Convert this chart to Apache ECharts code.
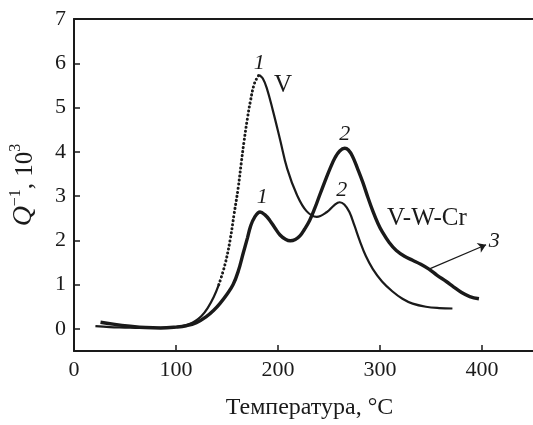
<!DOCTYPE html>
<html>
<head>
<meta charset="utf-8">
<script src="https://cdn.jsdelivr.net/npm/echarts@6/dist/echarts.min.js"></script>
<style>
  html, body { margin: 0; padding: 0; background: #fff; }
  #chart { width: 533px; height: 425px; }
</style>
</head>
<body>
<div id="chart"></div>
<script>
// Internal friction Q^-1 (x10^3) versus temperature for V and V-W-Cr

// V: low-temperature baseline (solid), rising flank (dotted), then falling part (solid)
const vBase = [
  [21, 0.06], [35, 0.04], [50, 0.03], [65, 0.02], [80, 0.02], [95, 0.03],
  [105, 0.06], [113, 0.11], [119, 0.18], [125, 0.29], [131, 0.47],
  [137, 0.72], [142, 1.0]
];
const vRise = [
  [142, 1.0], [148, 1.45], [153, 2.0], [157, 2.6], [161, 3.19], [164, 3.75],
  [166.5, 4.2], [170, 4.75], [173, 5.15], [177, 5.55], [181.5, 5.74]
];
const vFall = [
  [181.5, 5.74], [185, 5.66], [189, 5.44], [195, 4.93], [202, 4.28],
  [209, 3.62], [218.5, 3.03], [228, 2.66], [238, 2.53], [248, 2.64],
  [255, 2.79], [260.5, 2.86], [265, 2.81], [270, 2.64], [275, 2.33],
  [280, 2.0], [286, 1.65], [293, 1.35], [302, 1.07], [312, 0.85],
  [322, 0.68], [332, 0.57], [345, 0.5], [358, 0.47], [371, 0.46]
];

// V-W-Cr
const vwcr = [
  [26, 0.15], [40, 0.1], [55, 0.06], [70, 0.03], [85, 0.02], [100, 0.04],
  [110, 0.07], [120, 0.14], [130, 0.28], [137, 0.42], [143, 0.57],
  [150, 0.78], [156, 1.0], [161, 1.3], [166, 1.72], [170, 2.05],
  [173, 2.31], [177, 2.52], [182.4, 2.64], [187, 2.58], [192, 2.45],
  [197, 2.28], [202, 2.12], [207, 2.03], [212, 1.99], [217, 2.02],
  [221.5, 2.1], [226, 2.25], [231, 2.45], [236, 2.72], [241, 3.03],
  [246, 3.33], [251, 3.62], [256, 3.87], [260.5, 4.02], [265.4, 4.08],
  [269, 4.04], [273, 3.9], [278, 3.62], [283, 3.32], [288, 2.98],
  [293, 2.66], [298, 2.38], [302, 2.2], [309, 1.95], [316, 1.77],
  [324, 1.64], [332, 1.55], [340, 1.46], [348, 1.35], [356, 1.21],
  [365, 1.07], [372, 0.95], [380, 0.82], [388, 0.73], [397, 0.68]
];

// Curve labels: [x, y, text, italic, font size]
const notes = [
  [181.5, 6.0, '1', true, 22],
  [205, 5.5, 'V', false, 25],
  [184.5, 2.97, '1', true, 22],
  [265.5, 4.39, '2', true, 22],
  [262.5, 3.14, '2', true, 22],
  [346, 2.49, 'V-W-Cr', false, 25],
  [412, 1.99, '3', true, 22]
];

// Pointer from the V-W-Cr shoulder to its label
const pointer = [[348, 1.35], [404, 1.9]];

const xTicks = [0, 100, 200, 300, 400];
const yTicks = [0, 1, 2, 3, 4, 5, 6, 7];

const FONT = '"Liberation Serif", "DejaVu Serif", serif';
const INK = '#1a1a1a';

const chart = echarts.init(document.getElementById('chart'), null, { renderer: 'canvas' });

chart.setOption({
  animation: false,
  backgroundColor: '#fff',
  grid: { left: 73, right: 0, top: 19, bottom: 63, containLabel: false },
  xAxis: [
    {
      type: 'value', min: 0, max: 450, position: 'bottom',
      name: 'Температура, °C', nameLocation: 'middle', nameGap: 45,
      nameTextStyle: { fontFamily: FONT, fontSize: 24, color: INK, padding: [0, 0, 0, 12] },
      axisLine: { show: true, onZero: false, lineStyle: { color: INK, width: 2 } },
      axisTick: { show: true, inside: true, length: 6, customValues: xTicks, lineStyle: { color: INK, width: 1.5 } },
      axisLabel: { customValues: xTicks, margin: 8, fontFamily: FONT, fontSize: 22, color: INK },
      splitLine: { show: false }
    },
    {
      type: 'value', min: 0, max: 450, position: 'top',
      axisLine: { show: true, onZero: false, lineStyle: { color: INK, width: 2 } },
      axisTick: { show: false }, axisLabel: { show: false }, splitLine: { show: false }
    }
  ],
  yAxis: {
    type: 'value', min: -0.5, max: 7,
    name: '{q|Q}{sup|−1}{t|, 10}{sup|3}',
    nameLocation: 'middle', nameRotate: 90, nameGap: 36,
    nameTextStyle: {
      rich: {
        q: { fontFamily: FONT, fontStyle: 'italic', fontSize: 28, color: INK, lineHeight: 30, verticalAlign: 'bottom' },
        t: { fontFamily: FONT, fontSize: 25, color: INK, lineHeight: 30, verticalAlign: 'bottom' },
        sup: { fontFamily: FONT, fontSize: 16, color: INK, lineHeight: 30, verticalAlign: 'top' }
      }
    },
    axisLine: { show: true, onZero: false, lineStyle: { color: INK, width: 2 } },
    axisTick: { show: true, inside: true, length: 6, customValues: yTicks, lineStyle: { color: INK, width: 1.5 } },
    axisLabel: { customValues: yTicks, margin: 8, fontFamily: FONT, fontSize: 22, color: INK },
    splitLine: { show: false }
  },
  series: [
    {
      name: 'V base', type: 'line', data: vBase, smooth: 0.4, showSymbol: false,
      lineStyle: { color: INK, width: 2.2 }
    },
    {
      name: 'V rise', type: 'line', data: vRise, smooth: 0.4, showSymbol: false,
      lineStyle: { color: INK, width: 3, type: [0.1, 4], cap: 'round' }
    },
    {
      name: 'V fall', type: 'line', data: vFall, smooth: 0.4, showSymbol: false,
      lineStyle: { color: INK, width: 2.2 }
    },
    {
      name: 'V-W-Cr', type: 'line', data: vwcr, smooth: 0.4, showSymbol: false,
      lineStyle: { color: INK, width: 3.4 }
    },
    {
      name: 'pointer', type: 'lines', coordinateSystem: 'cartesian2d',
      symbol: ['none', 'arrow'], symbolSize: 8,
      lineStyle: { color: INK, width: 1.2, opacity: 1 },
      data: [{ coords: pointer }]
    },
    {
      name: 'notes', type: 'scatter', symbolSize: 0.01, silent: true,
      data: notes.map(n => ({
        value: [n[0], n[1]],
        label: { formatter: n[2], fontStyle: n[3] ? 'italic' : 'normal', fontSize: n[4] }
      })),
      label: {
        show: true, position: [0, 0], align: 'center', verticalAlign: 'middle',
        fontFamily: FONT, color: INK, opacity: 1, textBorderWidth: 0
      },
      itemStyle: { color: INK, opacity: 1 }
    }
  ]
});
</script>
</body>
</html>
